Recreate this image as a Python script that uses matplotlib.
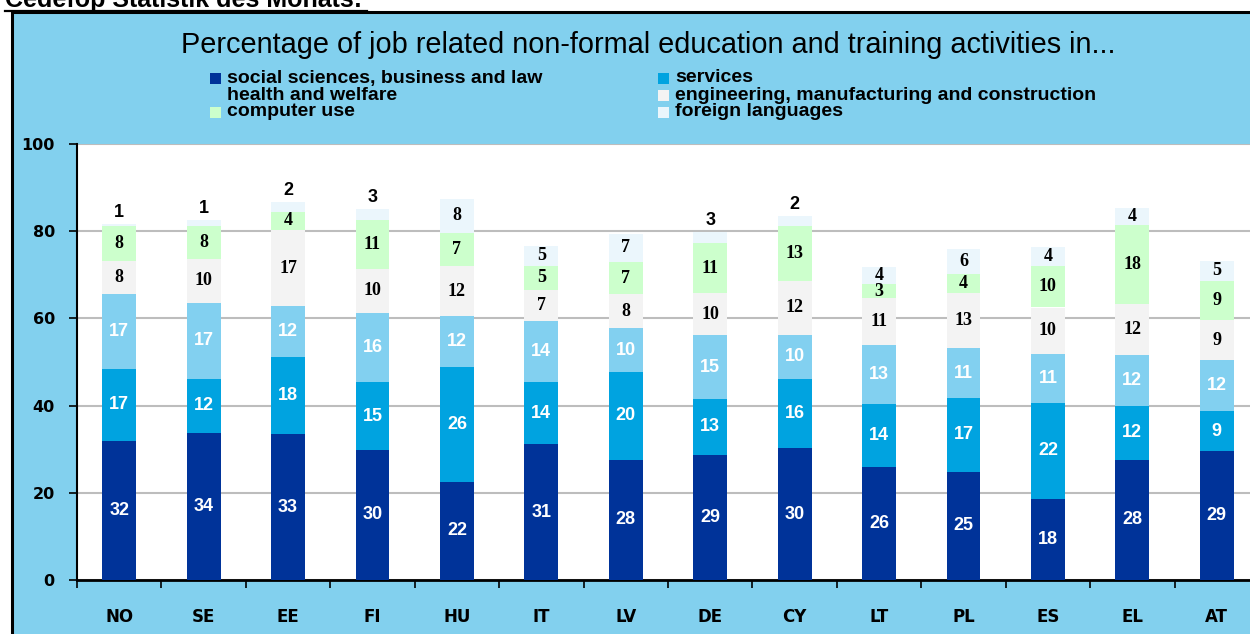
import matplotlib.pyplot as plt
from matplotlib.patches import Rectangle
from matplotlib.lines import Line2D

countries = ["NO", "SE", "EE", "FI", "HU", "IT", "LV", "DE", "CY", "LT", "PL", "ES", "EL", "AT"]

# segment heights
social = [31.8, 33.8, 33.4, 29.9, 22.5, 31.1, 27.6, 28.7, 30.2, 26.0, 24.8, 18.6, 27.6, 29.5]
services = [16.7, 12.4, 17.7, 15.4, 26.4, 14.2, 20.1, 12.8, 15.9, 14.3, 17.0, 22.1, 12.4, 9.3]
health = [17.0, 17.4, 11.7, 16.0, 11.6, 14.0, 10.0, 14.7, 10.1, 13.6, 11.3, 11.2, 11.6, 11.6]
engineering = [7.6, 10.1, 17.4, 10.0, 11.5, 7.3, 7.8, 9.6, 12.4, 10.8, 12.7, 10.6, 11.7, 9.2]
computer = [8.0, 7.6, 4.3, 11.2, 7.5, 5.5, 7.4, 11.4, 12.6, 3.1, 4.3, 9.6, 18.2, 9.0]
languages = [0.6, 1.3, 2.3, 2.7, 8.0, 4.5, 6.5, 2.6, 2.3, 3.9, 5.8, 4.3, 3.8, 4.6]

# printed (rounded) labels
social_lbl = [32, 34, 33, 30, 22, 31, 28, 29, 30, 26, 25, 18, 28, 29]
services_lbl = [17, 12, 18, 15, 26, 14, 20, 13, 16, 14, 17, 22, 12, 9]
health_lbl = [17, 17, 12, 16, 12, 14, 10, 15, 10, 13, 11, 11, 12, 12]
engineering_lbl = [8, 10, 17, 10, 12, 7, 8, 10, 12, 11, 13, 10, 12, 9]
computer_lbl = [8, 8, 4, 11, 7, 5, 7, 11, 13, 3, 4, 10, 18, 9]
languages_lbl = [1, 1, 2, 3, 8, 5, 7, 3, 2, 4, 6, 4, 4, 5]

series_names = ["social sciences, business and law", "services", "health and welfare",
                "engineering, manufacturing and construction", "computer use", "foreign languages"]
colors = ["#003399", "#00A3E0", "#82D0F0", "#F3F3F3", "#CCFFCC", "#EBF6FC"]
text_colors = ["white", "white", "white", "black", "black", "black"]

BG = "#82D0EE"

fig = plt.figure(figsize=(12.5, 6.34), dpi=100)
W, H = 1250, 634

def fx(px):
    return px / W

def fy(py):
    return 1 - py / H

# outer frame
fig.patches.append(Rectangle((fx(12), -0.05), 1.1, fy(12) + 0.05, transform=fig.transFigure,
                             facecolor=BG, edgecolor="black", lw=2.2, zorder=-5))
fig.text(fx(5), fy(6.5), "Cedefop Statistik des Monats:", fontsize=18, fontweight="bold",
         family="Liberation Sans", va="baseline", ha="left")
fig.add_artist(Line2D([fx(5), fx(367)], [fy(10.5), fy(10.5)], color="black", lw=1.6,
                      transform=fig.transFigure))

fig.text(fx(648), fy(45), "Percentage of job related non-formal education and training activities in...",
         fontsize=20.8, family="Liberation Sans", ha="center", va="center")

# legend, drawn by hand in two columns
leg_pos = [(210, 78), (658, 78), (210, 95), (658, 95), (210, 112), (658, 112)]
for (lx, ly), k in zip(leg_pos, range(6)):
    fig.patches.append(Rectangle((fx(lx), fy(ly + 5.5)), fx(11), 11 / H, transform=fig.transFigure,
                                 facecolor=colors[k], edgecolor="none", zorder=2))
    fig.text(fx(lx + 17), fy(ly), series_names[k], fontsize=14, fontweight="bold",
             family="Liberation Sans", va="center", ha="left")

ax = fig.add_axes([fx(77), fy(580), fx(1259 - 77), (580 - 144) / H])
ax.set_facecolor("white")

x = list(range(len(countries)))
data = [social, services, health, engineering, computer, languages]
labels = [social_lbl, services_lbl, health_lbl, engineering_lbl, computer_lbl, languages_lbl]
bottom = [0.0] * len(countries)
for k in range(6):
    ax.bar(x, data[k], bottom=bottom, width=0.4, color=colors[k], zorder=3)
    for i in x:
        seg = data[k][i]
        fam = "Liberation Sans" if text_colors[k] == "white" else "Liberation Serif"
        if k == 5 and seg < 3.5:
            ax.annotate(str(labels[k][i]), (i, bottom[i] + seg), xytext=(0, 2),
                        textcoords="offset points", ha="center", va="bottom",
                        fontsize=13, fontweight="bold", family="Liberation Sans",
                        color=text_colors[k], zorder=4)
        else:
            ax.text(i, bottom[i] + seg / 2, str(labels[k][i]), ha="center", va="center",
                    fontsize=13, fontweight="bold", family=fam, color=text_colors[k], zorder=4)
    bottom = [b + v for b, v in zip(bottom, data[k])]

ax.set_xlim(-0.5, 13.5)
ax.set_ylim(0, 100)
ax.set_yticks([0, 20, 40, 60, 80, 100])
ax.grid(axis="y", color="#BDBDBD", lw=1.5, zorder=1)
ax.set_xticks(x)
ax.set_xticklabels(countries)
ax.set_xticks([i - 0.5 for i in x], minor=True)
ax.tick_params(axis="x", which="major", length=0, pad=20)
ax.tick_params(axis="x", which="minor", length=6, width=1.2, direction="out")
ax.tick_params(axis="y", length=6, width=1.2, direction="out", pad=10)
for lab in ax.get_xticklabels():
    lab.set_fontweight("bold")
    lab.set_fontsize(12)
    lab.set_family("DejaVu Sans")
for lab in ax.get_yticklabels():
    lab.set_fontweight("bold")
    lab.set_fontsize(11.5)
    lab.set_family("DejaVu Sans")
for s in ["top", "right"]:
    ax.spines[s].set_visible(False)
ax.spines["left"].set_linewidth(1.5)
ax.spines["bottom"].set_linewidth(2)
ax.spines["left"].set_zorder(5)

fig.savefig("out.png", dpi=100)
